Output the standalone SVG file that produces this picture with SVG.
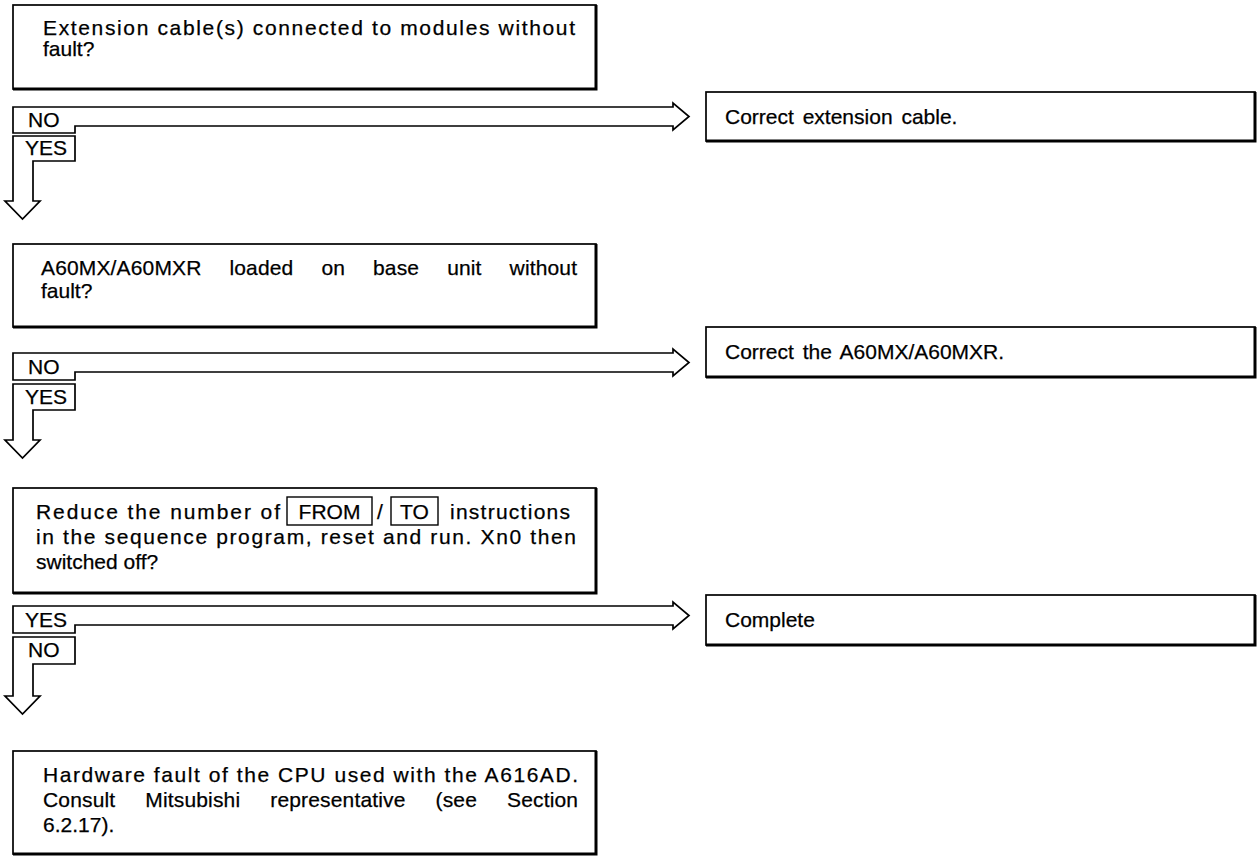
<svg xmlns="http://www.w3.org/2000/svg" width="1258" height="857" viewBox="0 0 1258 857">
<style>
  .bg{fill:#fff}
  .box{fill:#fff;stroke:#000;stroke-width:1.7}
  .edge{fill:none;stroke:#000;stroke-width:3}
  .arrow{fill:#fff;stroke:#000;stroke-width:1.7;stroke-linejoin:miter}
  .key{fill:none;stroke:#000;stroke-width:1.4}
  text{font-family:"Liberation Sans",Arial,Helvetica,sans-serif;font-size:21px;fill:#000;stroke:#000;stroke-width:0.25}
</style>
<rect class="bg" x="0" y="0" width="1258" height="857"/>

<g id="connectors">
  <path class="arrow" d="M13,107 H673 V103 L689,116.5 L673,130 V126 H75 V133 H13 Z"/>
  <path class="arrow" d="M13,136 H75 V161 H33 V201 H40 L22.5,219 L5,201 H13 Z"/>
  <path class="arrow" d="M13,353 H673 V349 L689,362.5 L673,376 V372 H75 V380 H13 Z"/>
  <path class="arrow" d="M13,384 H75 V410 H33 V440 H40 L22.5,458 L5,440 H13 Z"/>
  <path class="arrow" d="M13,606 H673 V602 L689,615.5 L673,629 V625 H75 V633 H13 Z"/>
  <path class="arrow" d="M13,637 H75 V664 H33 V696 H40 L22.5,714 L5,696 H13 Z"/>
  <text x="28" y="127">NO</text>
  <text x="25" y="155">YES</text>
  <text x="28" y="374">NO</text>
  <text x="25" y="404">YES</text>
  <text x="25" y="627">YES</text>
  <text x="28" y="657">NO</text>
</g>

<g id="q1">
  <rect class="box" x="13" y="5" width="583" height="84"/>
  <path class="edge" d="M596,5 V89 H13"/>
  <text x="43" y="35" textLength="532" lengthAdjust="spacing">Extension cable(s) connected to modules without</text>
  <text x="43" y="56">fault?</text>
</g>

<g id="r1">
  <rect class="box" x="706" y="92" width="549" height="49"/>
  <path class="edge" d="M1255,92 V141 H706"/>
  <text x="725" y="124" word-spacing="3">Correct extension cable.</text>
</g>

<g id="q2">
  <rect class="box" x="13" y="244" width="583" height="83"/>
  <path class="edge" d="M596,244 V327 H13"/>
  <text x="41" y="275" word-spacing="22" textLength="536" lengthAdjust="spacing">A60MX/A60MXR loaded on base unit without</text>
  <text x="41" y="298">fault?</text>
</g>

<g id="r2">
  <rect class="box" x="706" y="327" width="549" height="50"/>
  <path class="edge" d="M1255,327 V377 H706"/>
  <text x="725" y="359" word-spacing="3">Correct the A60MX/A60MXR.</text>
</g>

<g id="q3">
  <rect class="box" x="13" y="488" width="583" height="105"/>
  <path class="edge" d="M596,488 V593 H13"/>
  <text x="36" y="519" textLength="244" lengthAdjust="spacing">Reduce the number of</text>
  <rect class="key" x="287" y="497" width="85" height="28"/>
  <text x="329.5" y="519" text-anchor="middle">FROM</text>
  <text x="380" y="519" text-anchor="middle">/</text>
  <rect class="key" x="391" y="497" width="47" height="28"/>
  <text x="414.5" y="519" text-anchor="middle">TO</text>
  <text x="450" y="519" textLength="120" lengthAdjust="spacing">instructions</text>
  <text x="36" y="544" textLength="540" lengthAdjust="spacing">in the sequence program, reset and run. Xn0 then</text>
  <text x="36" y="569">switched off?</text>
</g>

<g id="r3">
  <rect class="box" x="706" y="595" width="549" height="50"/>
  <path class="edge" d="M1255,595 V645 H706"/>
  <text x="725" y="627">Complete</text>
</g>

<g id="end">
  <rect class="box" x="13" y="751" width="583" height="103"/>
  <path class="edge" d="M596,751 V854 H13"/>
  <text x="43" y="782" textLength="535" lengthAdjust="spacing">Hardware fault of the CPU used with the A616AD.</text>
  <text x="43" y="807" word-spacing="24" textLength="535" lengthAdjust="spacing">Consult Mitsubishi representative (see Section</text>
  <text x="43" y="832">6.2.17).</text>
</g>
</svg>
